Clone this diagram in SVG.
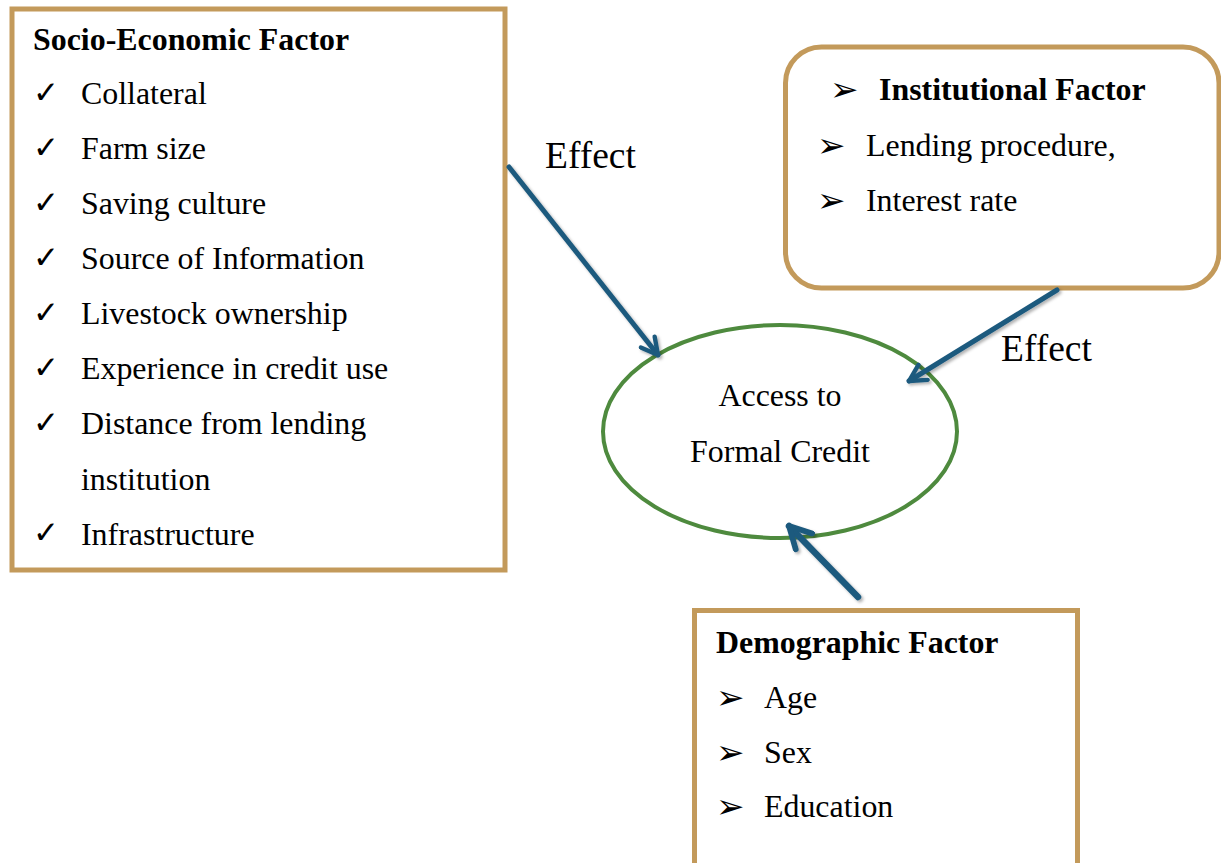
<svg xmlns="http://www.w3.org/2000/svg" width="1221" height="863" viewBox="0 0 1221 863">
<style>
.box{fill:#ffffff;stroke:#c39a5b;stroke-width:5}
.t{font-family:"Liberation Serif","Times New Roman",serif;font-size:31.9px;fill:#000}
.b{font-weight:bold}
.chk{font-family:"DejaVu Sans",sans-serif;font-size:31px;fill:#000}
.arr{font-family:"DejaVu Sans",sans-serif;font-size:34px;fill:#000}
.con{stroke:#1f5a7e;stroke-width:5;fill:none;stroke-linecap:round}
.eff{font-family:"Liberation Serif","Times New Roman",serif;font-size:37.5px;fill:#000}
</style>
<defs>
<marker id="ah" viewBox="0 0 10 10" refX="9" refY="5" markerWidth="4.4" markerHeight="4.4" orient="auto" markerUnits="strokeWidth">
<path d="M1.5,1 L9,5 L1.5,9" fill="none" stroke="#1f5a7e" stroke-width="2" stroke-linecap="round" stroke-linejoin="round"/>
</marker>
<filter id="sh" x="-20%" y="-20%" width="140%" height="140%">
<feDropShadow dx="2" dy="2" stdDeviation="1.5" flood-color="#000" flood-opacity="0.3"/>
</filter>
</defs>
<rect width="1221" height="863" fill="#ffffff"/>
<g id="socio">
<rect class="box" x="12" y="9" width="493" height="561"/>
<text class="t b" x="33" y="50">Socio-Economic Factor</text>
<g class="chk">
<text x="33" y="103">✓</text>
<text x="33" y="158">✓</text>
<text x="33" y="213">✓</text>
<text x="33" y="268">✓</text>
<text x="33" y="323">✓</text>
<text x="33" y="378">✓</text>
<text x="33" y="433">✓</text>
<text x="33" y="543">✓</text>
</g>
<text class="t" x="81" y="104">Collateral</text>
<text class="t" x="81" y="159">Farm size</text>
<text class="t" x="81" y="214">Saving culture</text>
<text class="t" x="81" y="269">Source of Information</text>
<text class="t" x="81" y="324">Livestock ownership</text>
<text class="t" x="81" y="379">Experience in credit use</text>
<text class="t" x="81" y="434">Distance from lending</text>
<text class="t" x="81" y="490">institution</text>
<text class="t" x="81" y="545">Infrastructure</text>
</g>
<g id="institutional">
<rect class="box" x="785.5" y="47" width="433.5" height="241" rx="36"/>
<text class="arr" x="830" y="101">➢</text>
<text class="t b" x="879" y="100">Institutional Factor</text>
<text class="arr" x="817" y="157">➢</text>
<text class="t" x="866" y="156">Lending procedure,</text>
<text class="arr" x="817" y="212">➢</text>
<text class="t" x="866" y="211">Interest rate</text>
</g>
<g id="access">
<ellipse cx="780" cy="431.5" rx="177" ry="106.5" fill="#ffffff" stroke="#4e8a3e" stroke-width="4"/>
<text class="t" x="780" y="406" text-anchor="middle">Access to</text>
<text class="t" x="780" y="462" text-anchor="middle">Formal Credit</text>
</g>
<g id="demographic">
<rect class="box" x="694.5" y="610.5" width="383" height="270"/>
<text class="t b" x="716" y="653">Demographic Factor</text>
<text class="arr" x="716" y="709">➢</text>
<text class="t" x="764" y="708">Age</text>
<text class="arr" x="716" y="764">➢</text>
<text class="t" x="764" y="763">Sex</text>
<text class="arr" x="716" y="818">➢</text>
<text class="t" x="764" y="817">Education</text>
</g>
<g id="connectors" filter="url(#sh)">
<line class="con" x1="509" y1="167" x2="658" y2="355" marker-end="url(#ah)"/>
<line class="con" x1="1057" y1="290" x2="909" y2="381" marker-end="url(#ah)"/>
<line class="con" x1="858" y1="597" x2="789" y2="526" marker-end="url(#ah)" style="stroke-width:6.5"/>
</g>
<g id="labels">
<text class="eff" x="545" y="168">Effect</text>
<text class="eff" x="1001" y="361">Effect</text>
</g>
</svg>
